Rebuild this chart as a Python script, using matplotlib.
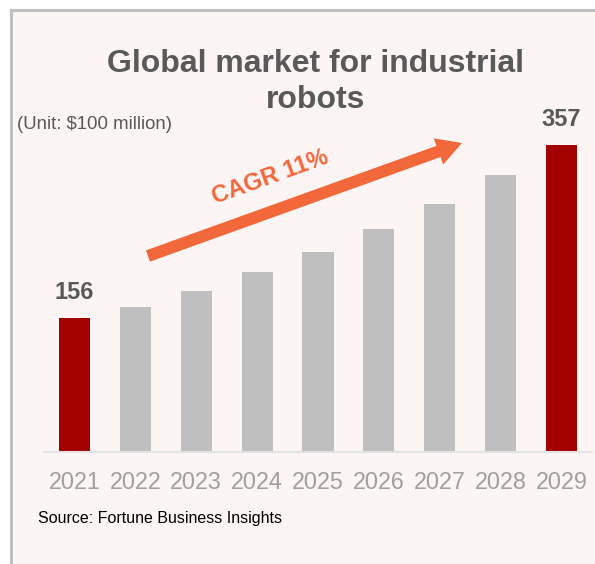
"""Global market for industrial robots, 2021-2029 (unit: $100 million)."""

import matplotlib

matplotlib.use("Agg")
import matplotlib.pyplot as plt
from matplotlib.patches import Rectangle

plt.rcParams["font.family"] = ["Liberation Sans", "DejaVu Sans"]

YEARS = ["2021", "2022", "2023", "2024", "2025", "2026", "2027", "2028", "2029"]
VALUES = [156, 169, 187, 209, 233, 259, 288, 322, 357]
HIGHLIGHT = {"2021", "2029"}

TITLE = "Global market for industrial\nrobots"
UNIT = "(Unit: $100 million)"
SOURCE = "Source: Fortune Business Insights"
CAGR = "CAGR 11%"

W, H = 595, 564
RED = "#a50000"
GREY = "#bfbfbf"
ORANGE = "#f3683b"
PANEL = "#fdf4f4"


def fx(x):
    return x / W


def fy(y):
    return 1 - y / H


def main():
    fig = plt.figure(figsize=(W / 100, H / 100), dpi=100)
    fig.patch.set_facecolor("white")

    panel = Rectangle((fx(10.5), -0.1), 1.2, fy(10.5) + 0.1,
                      transform=fig.transFigure, facecolor=PANEL,
                      edgecolor="#c0c0c0", linewidth=2.2, zorder=-1)
    fig.patches.append(panel)

    ax = fig.add_axes([fx(44), fy(452), fx(592) - fx(44), fy(108) - fy(452)])
    ax.set_zorder(1)
    ax.set_facecolor("none")
    colors = [RED if y in HIGHLIGHT else GREY for y in YEARS]
    x = range(len(YEARS))
    ax.bar(x, VALUES, width=0.51, color=colors)
    ax.set_xlim(-0.5, len(YEARS) - 0.5)
    ax.set_ylim(0, 400)

    for s in ("top", "left", "right"):
        ax.spines[s].set_visible(False)
    ax.spines["bottom"].set_color("#e3e3e3")
    ax.spines["bottom"].set_linewidth(1.5)
    ax.set_yticks([])
    ax.set_xticks(list(x))
    ax.set_xticklabels(YEARS, fontsize=16.8, color="#a0a0a0")
    ax.tick_params(axis="x", length=0, pad=14)

    for i, (yr, v) in enumerate(zip(YEARS, VALUES)):
        if yr in HIGHLIGHT:
            ax.annotate(str(v), (i, v), xytext=(0, 18), textcoords="offset points",
                        ha="center", va="center", fontsize=17, fontweight="bold",
                        color="#595959")

    fig.text(fx(315.5), fy(82), TITLE, ha="center", va="center", fontsize=23,
             fontweight="bold", color="#595959", linespacing=1.26)
    fig.text(fx(17), fy(124.5), UNIT, ha="left", va="center", fontsize=13.4,
             color="#595959")
    fig.text(fx(38), fy(518), SOURCE, ha="left", va="center", fontsize=11.5,
             color="black")

    ax.annotate("", xy=(462, H - 143), xytext=(148, H - 256),
                xycoords="figure pixels", textcoords="figure pixels",
                arrowprops=dict(arrowstyle="simple,head_length=1.8,head_width=2.0,tail_width=0.86",
                                mutation_scale=10, color=ORANGE, shrinkA=0, shrinkB=0,
                                linewidth=0))
    fig.text(fx(270), fy(177), CAGR, ha="center", va="center", rotation=19.8,
             rotation_mode="anchor", fontsize=17, fontweight="bold", color=ORANGE)

    fig.savefig("out.png", dpi=100)
    plt.close(fig)


if __name__ == "__main__":
    main()
